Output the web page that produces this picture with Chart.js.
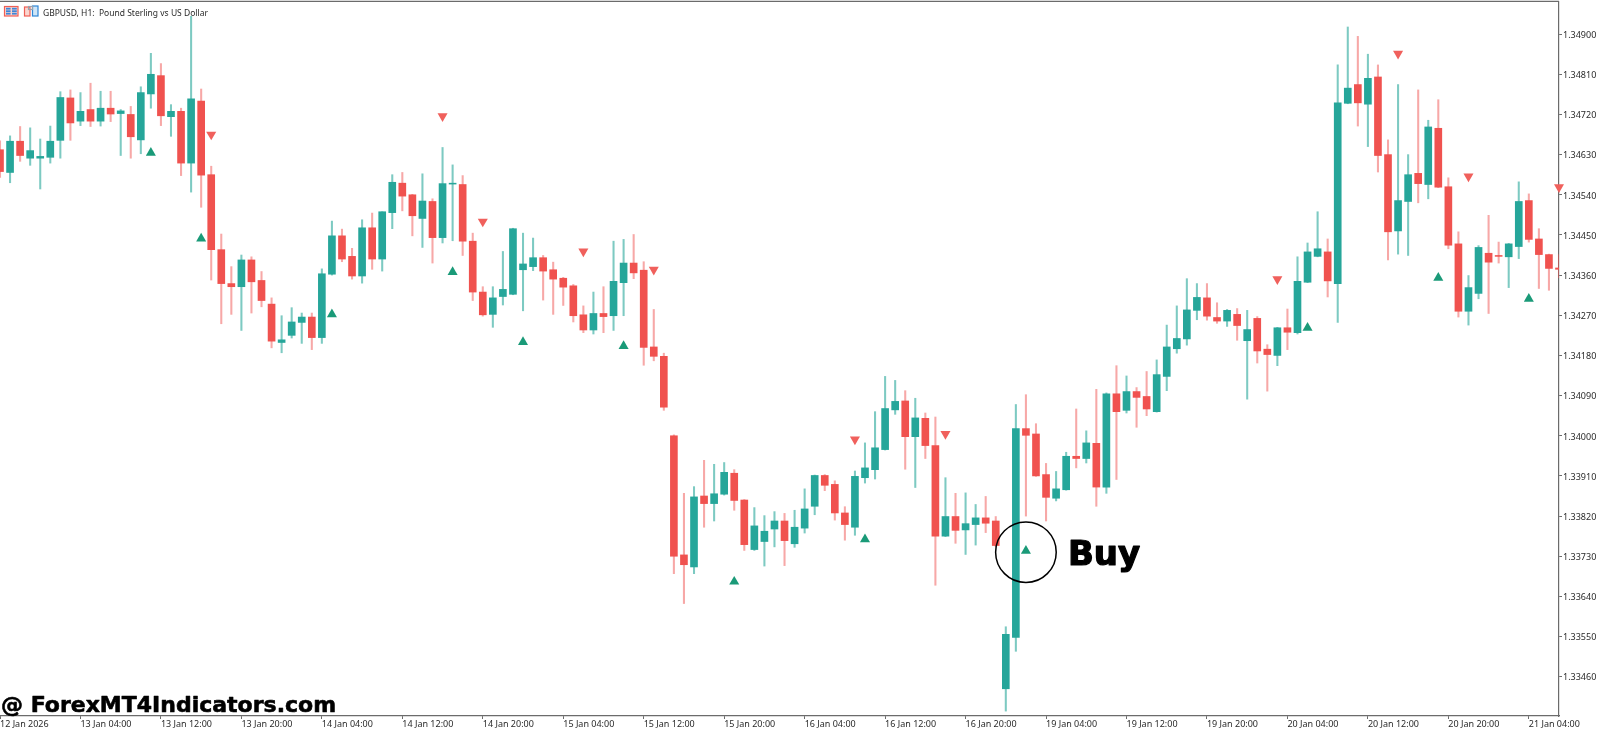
<!DOCTYPE html>
<html><head><meta charset="utf-8">
<style>html,body{margin:0;padding:0;background:#fff}canvas{display:block}</style>
<script src="https://cdn.jsdelivr.net/npm/chart.js@4"></script>
</head><body><canvas id="c" width="1600" height="730"></canvas>
<script>
const tickLabels=["12 Jan 2026","13 Jan 04:00","13 Jan 12:00","13 Jan 20:00","14 Jan 04:00","14 Jan 12:00","14 Jan 20:00","15 Jan 04:00","15 Jan 12:00","15 Jan 20:00","16 Jan 04:00","16 Jan 12:00","16 Jan 20:00","19 Jan 04:00","19 Jan 12:00","19 Jan 20:00","20 Jan 04:00","20 Jan 12:00","20 Jan 20:00","21 Jan 04:00"];
const priceTicks=[1.349,1.3481,1.3472,1.3463,1.3454,1.3445,1.3436,1.3427,1.3418,1.3409,1.34,1.3391,1.3382,1.3373,1.3364,1.3355,1.3346];
const open=[1.34641,1.3459,1.3466,1.34622,1.34622,1.34624,1.34662,1.34757,1.34705,1.34731,1.34705,1.34734,1.34722,1.3472,1.34663,1.34766,1.34807,1.34715,1.34727,1.34611,1.3475,1.34585,1.34417,1.34341,1.34334,1.34394,1.34348,1.34295,1.34209,1.34225,1.34254,1.34266,1.3422,
1.34362,1.34448,1.34402,1.34358,1.34466,1.34396,1.345,1.34566,1.3454,1.34487,1.34525,1.34444,1.34564,1.34563,1.34436,1.34322,1.34272,1.34312,1.34317,1.34372,1.34379,1.34399,1.34372,1.34353,1.34336,1.34271,1.34237,1.34274,1.34269,1.34343,1.34387,1.34371,1.34199,
1.34178,1.34,1.33733,1.33706,1.33865,1.33848,1.33869,1.33916,1.33856,1.33745,1.33763,1.33791,1.33809,1.33758,1.33793,1.33842,1.33911,1.33891,1.33827,1.33795,1.33906,1.33924,1.33969,1.34058,1.34078,1.33998,1.34039,1.33978,1.33775,1.33819,1.33789,1.33801,1.33816,1.33809,
1.33433,1.33548,1.34016,1.34004,1.33913,1.3386,1.33879,1.33954,1.33949,1.33983,1.33885,1.34094,1.34057,1.34099,1.34088,1.34054,1.34133,1.34195,1.34217,1.34281,1.34309,1.34265,1.34257,1.34272,1.34213,1.34263,1.34194,1.3418,1.34242,1.34231,
1.34344,1.34402,1.34412,1.34341,1.34745,1.34787,1.34743,1.34804,1.3463,1.34459,1.34525,1.34588,1.34563,1.34689,1.34558,1.3443,1.34279,1.34319,1.34409,1.34404,1.34401,1.34424,1.34527,1.34441,1.34406,1.34376];
const high=[1.34661,1.34672,1.34693,1.3469,1.34665,1.34694,1.34771,1.34775,1.34769,1.3479,1.34772,1.34772,1.34731,1.34738,1.34782,1.34857,1.34834,1.34742,1.34734,1.3494,1.34777,1.34604,1.34452,1.34379,1.34405,1.34401,1.34368,1.34309,1.34269,1.34287,1.34275,1.34275,1.34374,
1.34481,1.34463,1.3442,1.34484,1.34499,1.34502,1.34585,1.3459,1.34541,1.34587,1.34531,1.34646,1.34607,1.34583,1.34454,1.34334,1.34334,1.34413,1.34465,1.34454,1.34443,1.34404,1.34389,1.34355,1.34339,1.34291,1.34322,1.34334,1.34436,1.3444,1.34451,1.3439,1.34283,
1.34185,1.34002,1.33871,1.33886,1.33945,1.33936,1.3394,1.33924,1.33857,1.33839,1.33821,1.3383,1.33826,1.33833,1.33881,1.33912,1.33913,1.33899,1.33841,1.33921,1.33984,1.34054,1.34133,1.34124,1.34101,1.34084,1.34051,1.34042,1.33906,1.33871,1.33872,1.33846,1.33864,1.33819,
1.33572,1.3407,1.34092,1.34027,1.33938,1.3392,1.33963,1.3406,1.34011,1.34104,1.34096,1.34157,1.34134,1.34108,1.34144,1.3417,1.34248,1.34291,1.34352,1.34341,1.34341,1.34298,1.34283,1.34285,1.34281,1.34267,1.34204,1.34243,1.34284,1.34401,
1.34432,1.34502,1.34441,1.34831,1.34916,1.34895,1.34855,1.34831,1.34663,1.34787,1.3463,1.34775,1.34707,1.34753,1.34578,1.34457,1.34359,1.34426,1.34494,1.34434,1.34431,1.34569,1.34542,1.34464,1.34407,1.34406];
const low=[1.34579,1.34567,1.34615,1.34606,1.34553,1.34611,1.34622,1.34662,1.34695,1.34693,1.34694,1.34704,1.34628,1.34622,1.34632,1.34734,1.34695,1.34671,1.34583,1.34546,1.34512,1.34349,1.34251,1.34272,1.34236,1.34275,1.34289,1.34197,1.34186,1.34219,1.34207,1.34193,1.34207,
1.3436,1.3439,1.34351,1.34342,1.34373,1.34369,1.34464,1.34504,1.34448,1.34422,1.34387,1.34432,1.34437,1.34404,1.34303,1.34268,1.34243,1.34293,1.34316,1.3428,1.3437,1.34304,1.34272,1.34292,1.34255,1.34231,1.34228,1.34231,1.34236,1.34269,1.34352,1.34158,1.34168,
1.34057,1.33691,1.33624,1.33691,1.33795,1.33809,1.33867,1.33833,1.33743,1.33743,1.33708,1.33751,1.33709,1.3375,1.33782,1.33823,1.33877,1.33811,1.33766,1.33777,1.33894,1.33903,1.33968,1.34048,1.33925,1.33884,1.33949,1.33665,1.33774,1.33759,1.33734,1.33755,1.33783,1.33752,
1.33383,1.33517,1.3382,1.33909,1.33809,1.33854,1.33878,1.33928,1.33939,1.33842,1.33871,1.33902,1.34051,1.34019,1.34045,1.34053,1.34101,1.34185,1.34203,1.3426,1.34259,1.34252,1.34245,1.34214,1.34082,1.34163,1.341,1.34157,1.34193,1.34228,
1.34343,1.34401,1.34311,1.34254,1.34744,1.34694,1.34648,1.34591,1.34394,1.34407,1.34404,1.34522,1.34531,1.34556,1.34419,1.34266,1.34248,1.34307,1.34274,1.34387,1.34332,1.34397,1.34434,1.3433,1.34326,1.34354];
const close=[1.34592,1.3466,1.34628,1.34639,1.34626,1.3466,1.34758,1.34701,1.34727,1.34705,1.34734,1.34721,1.34728,1.3467,1.34769,1.3481,1.34717,1.34727,1.34611,1.34755,1.34584,1.34417,1.34341,1.34334,1.34394,1.34345,1.34303,1.34212,1.34215,1.34255,1.34266,1.3422,1.34363,
1.34448,1.34396,1.34358,1.34466,1.34396,1.34502,1.34568,1.34537,1.34493,1.34526,1.34444,1.34565,1.34566,1.34436,1.34322,1.34271,1.34309,1.34328,1.34464,1.34385,1.34399,1.34369,1.34351,1.34333,1.34269,1.34237,1.34274,1.34267,1.34346,1.34387,1.34365,1.34198,1.34178,
1.34064,1.3373,1.33711,1.33863,1.33848,1.3387,1.33918,1.33855,1.33756,1.33798,1.33786,1.33809,1.33765,1.33795,1.33836,1.33911,1.33889,1.33827,1.33801,1.33909,1.33928,1.33973,1.34061,1.34077,1.33998,1.3404,1.33978,1.33775,1.33819,1.33788,1.33803,1.33816,1.33804,1.33754,
1.33555,1.34016,1.34001,1.3391,1.33862,1.33881,1.33954,1.33949,1.33984,1.33885,1.34094,1.34054,1.34099,1.34086,1.3406,1.34137,1.34199,1.34218,1.34282,1.3431,1.34268,1.34257,1.34281,1.34247,1.34238,1.3419,1.34182,1.34242,1.34232,1.34346,
1.34412,1.34419,1.34347,1.34746,1.34779,1.34746,1.34801,1.34628,1.34457,1.34527,1.34585,1.34565,1.34692,1.34557,1.34427,1.34279,1.34332,1.34422,1.34389,1.34402,1.3443,1.34525,1.3444,1.34406,1.34375,1.34373];
const categories=open.map((_,i)=>i);
const buyIndex=[15,20,33,45,52,62,73,86,102,130,143,152];
const buyPrice=[1.34634,1.34442,1.34272,1.34367,1.3421,1.34201,1.33673,1.33768,1.33742,1.34242,1.34354,1.34307];
const sellIndex=[21,44,48,58,65,85,94,127,139,146,155];
const sellPrice=[1.34675,1.34716,1.3448,1.34413,1.34372,1.33992,1.34004,1.34351,1.34856,1.34581,1.34557];
const buyNote={index:102,price:1.33739,text:"Buy"};
const title="GBPUSD, H1:  Pound Sterling vs US Dollar";
const watermark="@ ForexMT4Indicators.com";

const UP="#26a69a",DN="#f0524f";
const isUp=i=>close[i]>=open[i];
const overlay={id:'overlay',afterDraw(ch){
  const c=ch.ctx,a=ch.chartArea;
  c.save();
  c.strokeStyle="#6b6b6b";c.lineWidth=1.2;
  c.beginPath();c.moveTo(0,1.3);c.lineTo(a.right,1.3);c.stroke();
  // toolbar icons
  c.lineWidth=1.2;
  c.strokeStyle="#ef5f55";c.fillStyle="#fbd5cf";c.fillRect(4.5,6.5,13.5,9.5);c.strokeRect(4.5,6.5,13.5,9.5);
  c.fillStyle="#3f86d8";for(const r of [8.7,11.2,13.7]){c.fillRect(6,r-.9,4.6,1.8);c.fillRect(12,r-.9,4.8,1.8);}
  c.strokeStyle="#ef5f55";c.fillStyle="#fbd5cf";c.fillRect(24.5,7,5.5,9);c.strokeRect(24.5,7,5.5,9);
  c.strokeStyle="#2f86d6";c.fillStyle="#cfe6f8";c.fillRect(32.5,6,5.5,10);c.strokeRect(32.5,6,5.5,10);
  c.strokeStyle="#9aa3ad";c.strokeRect(28.5,6.5,4,3);
  // title
  c.fillStyle="#2a2a2a";c.font='8.5px "Noto Sans"';c.textBaseline='alphabetic';c.textAlign='left';
  c.fillText(title,43,15.5);
  // buy note
  const cx=ch.scales.x.getPixelForValue(buyNote.index),cy=ch.scales.y.getPixelForValue(buyNote.price);
  c.strokeStyle="#000";c.lineWidth=1.5;c.beginPath();c.arc(cx,cy,30.3,0,Math.PI*2);c.stroke();
  c.fillStyle="#000";c.strokeStyle="#000";c.lineJoin='round';
  c.font='bold 34px "DejaVu Sans"';c.lineWidth=1.2;c.fillText(buyNote.text,cx+42,cy+12.5);c.strokeText(buyNote.text,cx+42,cy+12.5);
  c.font='bold 22px "DejaVu Sans"';c.lineWidth=.6;c.fillText(watermark,1,712);c.strokeText(watermark,1,712);
  c.restore();
}};
new Chart(document.getElementById('c'),{
  data:{labels:categories,datasets:[
    {type:'bar',label:'Wick',data:categories.map(i=>[low[i],high[i]]),grouped:false,barThickness:1.4,
     backgroundColor:categories.map(i=>isUp(i)?"rgba(38,166,154,.6)":"rgba(240,82,79,.5)"),order:3},
    {type:'bar',label:'Body',data:categories.map(i=>[Math.min(open[i],close[i]),Math.max(open[i],close[i])]),grouped:false,barThickness:7,
     backgroundColor:categories.map(i=>isUp(i)?UP:DN),order:2},
    {type:'line',label:'Buy signal',data:buyIndex.map((x,k)=>({x,y:buyPrice[k]})),showLine:false,pointStyle:'triangle',pointRadius:5.8,pointBackgroundColor:"#1a9a78",pointBorderWidth:0,order:1},
    {type:'line',label:'Sell signal',data:sellIndex.map((x,k)=>({x,y:sellPrice[k]})),showLine:false,pointStyle:'triangle',pointRotation:180,pointRadius:5.8,pointBackgroundColor:"#f0605c",pointBorderWidth:0,order:1}
  ]},
  options:{responsive:false,animation:false,devicePixelRatio:1,
    layout:{autoPadding:false,padding:{top:2,left:0,right:0,bottom:0}},
    plugins:{legend:{display:false},tooltip:{enabled:false}},
    scales:{
      x:{type:'category',offset:false,
        border:{color:"#6b6b6b",width:1.2},
        grid:{drawOnChartArea:false,drawTicks:true,tickLength:3,tickColor:"#6b6b6b",offset:false},
        afterFit(s){s.height=14;s.paddingLeft=0;s.paddingRight=0;},
        ticks:{autoSkip:false,maxRotation:0,minRotation:0,align:'start',padding:0,color:"#2a2a2a",font:{family:'"Noto Sans"',size:9},
          callback(v,i){return i%8===0?tickLabels[i/8]:null;}}},
      y:{type:'linear',position:'right',min:1.33372,max:1.34972,
        border:{color:"#6b6b6b",width:1.2},
        grid:{drawOnChartArea:false,tickLength:3,tickColor:"#6b6b6b"},
        afterFit(s){s.width=41;s.paddingTop=0;s.paddingBottom=0;},
        afterBuildTicks(s){s.ticks=priceTicks.map(value=>({value}));},
        ticks:{padding:1,labelOffset:1.2,color:"#2a2a2a",font:{family:'"Noto Sans"',size:9},callback:v=>v.toFixed(5)}}
    }
  },
  plugins:[overlay]
});
</script></body></html>
